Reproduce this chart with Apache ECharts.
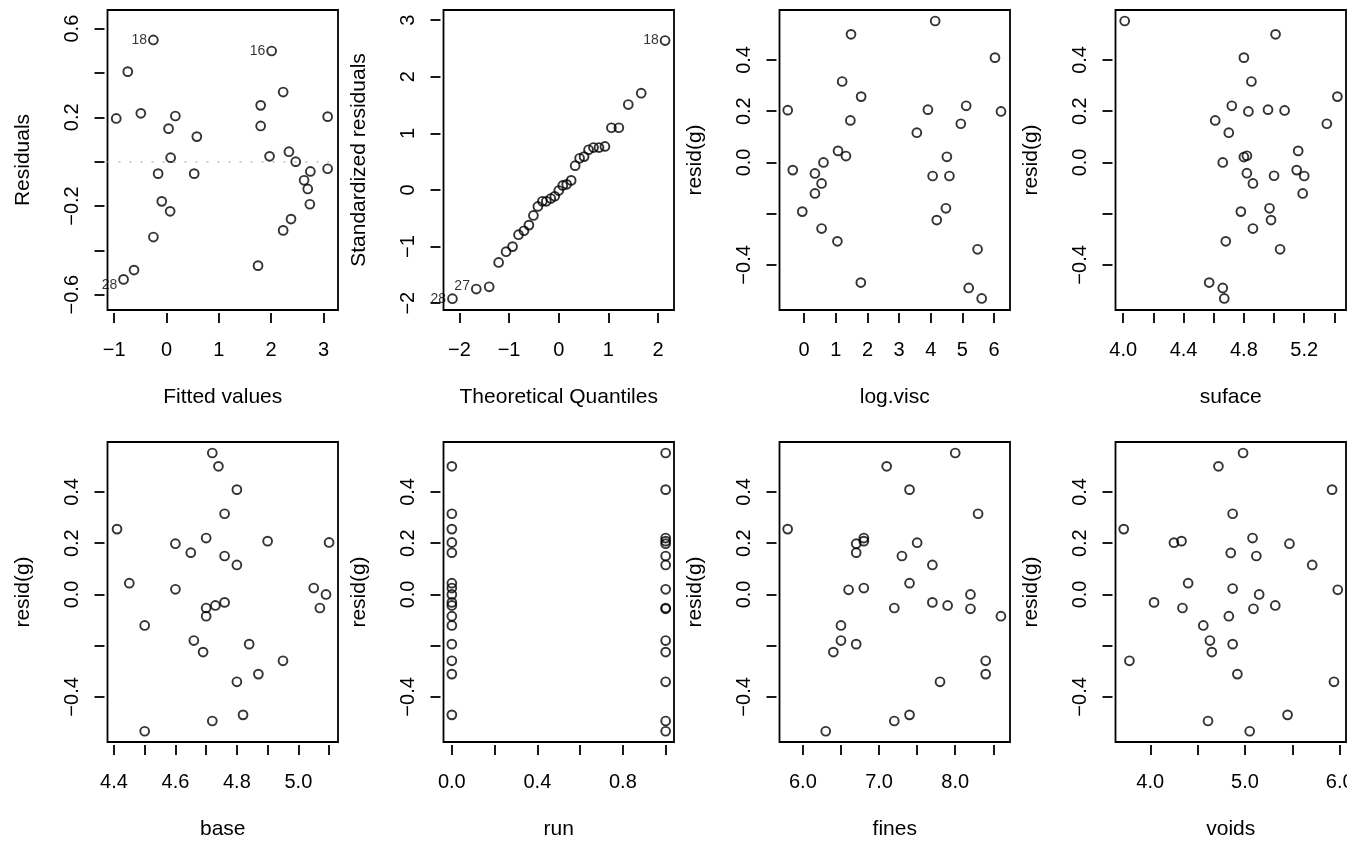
<!DOCTYPE html>
<html>
<head>
<meta charset="utf-8">
<script src="https://cdn.jsdelivr.net/npm/echarts@6/dist/echarts.min.js"></script>
<style>
  html, body { margin: 0; padding: 0; background: #fff; }
  #chart { width: 1366px; height: 842px; }
</style>
</head>
<body>
<div id="chart"></div>
<script>
// Residuals vs fitted
const fittedX = [-0.96, -0.74, -0.25, -0.49, 0.17, 0.04, 0.58, 0.08, -0.16, 0.53, -0.09, 0.07, -0.25, -0.62, -0.82, 2.01, 2.23, 1.80, 1.80, 3.08, 1.97, 2.34, 2.47, 2.75, 3.08, 2.63, 2.70, 2.74, 2.38, 2.23, 1.75]
const fittedResid = [0.195, 0.406, 0.549, 0.218, 0.206, 0.149, 0.113, 0.018, -0.054, -0.054, -0.179, -0.224, -0.340, -0.489, -0.531, 0.499, 0.314, 0.254, 0.161, 0.203, 0.024, 0.045, 0.0, -0.044, -0.032, -0.084, -0.123, -0.192, -0.259, -0.310, -0.469]
const fittedIds = { 2: '18', 15: '16', 14: '28' }

// Normal Q-Q
const qqX = [-2.14, -1.66, -1.40, -1.21, -1.06, -0.93, -0.81, -0.70, -0.60, -0.51, -0.42, -0.33, -0.25, -0.16, -0.08, 0.0, 0.08, 0.16, 0.25, 0.33, 0.42, 0.51, 0.60, 0.70, 0.81, 0.93, 1.06, 1.21, 1.40, 1.66, 2.14]
const qqY = [-1.92, -1.75, -1.71, -1.28, -1.09, -1.00, -0.79, -0.72, -0.62, -0.45, -0.29, -0.20, -0.20, -0.15, -0.11, -0.01, 0.08, 0.10, 0.17, 0.43, 0.56, 0.59, 0.71, 0.75, 0.75, 0.77, 1.10, 1.10, 1.51, 1.71, 2.64]
const qqIds = { 0: '28', 1: '27', 30: '18' }

// resid(g) against each predictor
const logViscX = [-0.52, -0.36, -0.06, 0.34, 0.34, 0.55, 0.61, 0.55, 1.05, 1.07, 1.32, 1.20, 1.48, 1.46, 1.80, 1.79, 3.56, 3.91, 4.14, 4.06, 4.19, 4.48, 4.51, 4.59, 4.95, 5.12, 5.20, 5.48, 5.61, 6.03, 6.22]
const logViscResid = [0.204, -0.030, -0.192, -0.043, -0.121, -0.082, 0.0, -0.258, -0.308, 0.045, 0.025, 0.316, 0.5, 0.164, 0.257, -0.469, 0.116, 0.206, 0.552, -0.053, -0.225, -0.179, 0.022, -0.053, 0.151, 0.221, -0.490, -0.339, -0.531, 0.409, 0.199]

const sufaceX = [4.01, 5.01, 4.80, 4.85, 5.42, 4.72, 4.96, 4.83, 5.07, 4.61, 5.35, 4.70, 5.16, 4.82, 4.80, 4.66, 4.82, 5.15, 5.20, 5.00, 4.86, 5.19, 4.78, 4.97, 4.98, 4.86, 4.68, 5.04, 4.57, 4.66, 4.67]
const sufaceResid = [0.552, 0.5, 0.409, 0.316, 0.257, 0.221, 0.206, 0.199, 0.203, 0.164, 0.151, 0.116, 0.045, 0.026, 0.021, 0.0, -0.042, -0.030, -0.053, -0.052, -0.082, -0.121, -0.192, -0.179, -0.225, -0.258, -0.308, -0.339, -0.469, -0.490, -0.531]

const baseX = [4.72, 4.74, 4.80, 4.76, 4.41, 4.70, 4.90, 4.60, 5.10, 4.65, 4.76, 4.80, 4.45, 4.60, 5.05, 5.09, 4.70, 4.73, 4.76, 4.70, 5.07, 4.50, 4.66, 4.69, 4.84, 4.95, 4.87, 4.80, 4.82, 4.72, 4.50]
const baseResid = [0.552, 0.5, 0.409, 0.315, 0.255, 0.220, 0.208, 0.198, 0.203, 0.163, 0.150, 0.115, 0.044, 0.020, 0.025, 0.0, -0.053, -0.043, -0.031, -0.085, -0.053, -0.121, -0.180, -0.225, -0.194, -0.259, -0.311, -0.341, -0.470, -0.494, -0.534]

const runX = [0, 0, 0, 0, 0, 0, 0, 0, 0, 0, 0, 0, 0, 0, 0, 0, 1, 1, 1, 1, 1, 1, 1, 1, 1, 1, 1, 1, 1, 1, 1]
const runResid = [0.5, 0.315, 0.255, 0.203, 0.163, 0.044, 0.025, 0.0, -0.031, -0.043, -0.085, -0.121, -0.194, -0.259, -0.311, -0.470, 0.552, 0.409, 0.220, 0.208, 0.198, 0.150, 0.115, 0.020, -0.053, -0.056, -0.180, -0.225, -0.341, -0.494, -0.534]

const finesX = [8.0, 7.1, 7.4, 8.3, 5.8, 6.8, 6.8, 7.5, 6.7, 6.7, 7.3, 7.7, 7.4, 6.6, 6.8, 8.2, 7.7, 7.9, 7.2, 8.2, 8.6, 6.5, 6.5, 6.4, 6.7, 8.4, 8.4, 7.8, 7.4, 7.2, 6.3]
const finesResid = [0.552, 0.5, 0.409, 0.315, 0.255, 0.220, 0.208, 0.202, 0.198, 0.163, 0.150, 0.115, 0.044, 0.018, 0.025, 0.0, -0.031, -0.043, -0.053, -0.056, -0.085, -0.121, -0.180, -0.225, -0.194, -0.259, -0.311, -0.341, -0.470, -0.494, -0.534]

const voidsX = [4.98, 4.72, 5.92, 4.87, 3.72, 5.08, 4.33, 4.25, 5.47, 4.85, 5.12, 5.71, 4.40, 4.87, 5.98, 5.15, 4.04, 5.32, 4.34, 5.09, 4.83, 4.56, 4.63, 4.65, 4.87, 3.78, 4.92, 5.94, 5.45, 4.61, 5.05]
const voidsResid = [0.552, 0.5, 0.409, 0.315, 0.255, 0.220, 0.208, 0.202, 0.198, 0.162, 0.150, 0.115, 0.044, 0.023, 0.018, 0.0, -0.031, -0.043, -0.053, -0.056, -0.085, -0.121, -0.180, -0.225, -0.194, -0.259, -0.311, -0.341, -0.470, -0.494, -0.534]

// tick positions and labelled ticks
const fittedTicks = [-1, 0, 1, 2, 3]
const fittedYTicks = [-0.6, -0.4, -0.2, 0, 0.2, 0.4, 0.6]
const fittedYLabels = [-0.6, -0.2, 0.2, 0.6]
const qqXTicks = [-2, -1, 0, 1, 2]
const qqYTicks = [-2, -1, 0, 1, 2, 3]
const residTicks = [-0.4, -0.2, 0, 0.2, 0.4]
const residLabels = [-0.4, 0, 0.2, 0.4]
const logViscTicks = [0, 1, 2, 3, 4, 5, 6]
const sufaceTicks = [4.0, 4.2, 4.4, 4.6, 4.8, 5.0, 5.2, 5.4]
const sufaceLabels = [4.0, 4.4, 4.8, 5.2]
const baseTicks = [4.4, 4.5, 4.6, 4.7, 4.8, 4.9, 5.0, 5.1]
const baseLabels = [4.4, 4.6, 4.8, 5.0]
const runTicks = [0, 0.2, 0.4, 0.6, 0.8, 1.0]
const runLabels = [0, 0.4, 0.8]
const finesTicks = [6.0, 6.5, 7.0, 7.5, 8.0, 8.5]
const finesLabels = [6.0, 7.0, 8.0]
const voidsTicks = [4.0, 4.5, 5.0, 5.5, 6.0]
const voidsLabels = [4.0, 5.0, 6.0]

const FONT = '"Liberation Sans", Arial, Helvetica, sans-serif'
const colLeft = [107.5, 443.5, 779.5, 1115.5]
const rowTop = [10, 442]
const boxW = 230.5
const boxH = 300
const LW = 1.8

const residRange = [-0.576, 0.595]

const panels = [
  { x: fittedX, y: fittedResid, ids: fittedIds, xName: 'Fitted values', yName: 'Residuals',
    xr: [-1.127, 3.278], yr: [-0.669, 0.684], xt: fittedTicks, xl: fittedTicks, xd: 0,
    yt: fittedYTicks, yl: fittedYLabels, yd: 1, zero: true },
  { x: qqX, y: qqY, ids: qqIds, xName: 'Theoretical Quantiles', yName: 'Standardized residuals',
    xr: [-2.32, 2.32], yr: [-2.12, 3.18], xt: qqXTicks, xl: qqXTicks, xd: 0,
    yt: qqYTicks, yl: qqYTicks, yd: 0 },
  { x: logViscX, y: logViscResid, xName: 'log.visc', yName: 'resid(g)',
    xr: [-0.78, 6.505], yr: residRange, xt: logViscTicks, xl: logViscTicks, xd: 0,
    yt: residTicks, yl: residLabels, yd: 1 },
  { x: sufaceX, y: sufaceResid, xName: 'suface', yName: 'resid(g)',
    xr: [3.949, 5.477], yr: residRange, xt: sufaceTicks, xl: sufaceLabels, xd: 1,
    yt: residTicks, yl: residLabels, yd: 1 },
  { x: baseX, y: baseResid, xName: 'base', yName: 'resid(g)',
    xr: [4.379, 5.129], yr: residRange, xt: baseTicks, xl: baseLabels, xd: 1,
    yt: residTicks, yl: residLabels, yd: 1 },
  { x: runX, y: runResid, xName: 'run', yName: 'resid(g)',
    xr: [-0.039, 1.039], yr: residRange, xt: runTicks, xl: runLabels, xd: 1,
    yt: residTicks, yl: residLabels, yd: 1 },
  { x: finesX, y: finesResid, xName: 'fines', yName: 'resid(g)',
    xr: [5.693, 8.719], yr: residRange, xt: finesTicks, xl: finesLabels, xd: 1,
    yt: residTicks, yl: residLabels, yd: 1 },
  { x: voidsX, y: voidsResid, xName: 'voids', yName: 'resid(g)',
    xr: [3.633, 6.067], yr: residRange, xt: voidsTicks, xl: voidsLabels, xd: 1,
    yt: residTicks, yl: residLabels, yd: 1 }
]

// nudges for the id labels so they sit like R's text()
const idOffset = { '28a': [0, 6], '27': [0, -3] }

function fmt(dec) {
  return (v) => {
    const n = Math.abs(v) < 1e-9 ? 0 : v
    return n.toFixed(dec).replace('-', '\u2212')
  }
}

const grid = []
const xAxis = []
const yAxis = []
const series = []

panels.forEach((p, i) => {
  const col = i % 4
  const row = Math.floor(i / 4)
  grid.push({
    left: colLeft[col], top: rowTop[row], width: boxW, height: boxH,
    show: true, borderColor: '#000', borderWidth: LW, backgroundColor: 'transparent'
  })
  xAxis.push({
    gridIndex: i, type: 'value', position: 'bottom', min: p.xr[0], max: p.xr[1], offset: 3,
    name: p.xName, nameLocation: 'middle', nameGap: 74,
    nameTextStyle: { fontFamily: FONT, fontSize: 21, color: '#000' },
    axisLine: { show: false, onZero: false },
    axisTick: { show: true, length: 10, customValues: p.xt, lineStyle: { color: '#000', width: LW } },
    axisLabel: { show: true, customValues: p.xl, margin: 27, formatter: fmt(p.xd),
      fontFamily: FONT, fontSize: 20, color: '#000', hideOverlap: false },
    splitLine: { show: false }
  })
  yAxis.push({
    gridIndex: i, type: 'value', position: 'left', min: p.yr[0], max: p.yr[1], offset: 3,
    name: p.yName, nameLocation: 'middle', nameGap: 71, nameRotate: 90,
    nameTextStyle: { fontFamily: FONT, fontSize: 21, color: '#000' },
    axisLine: { show: false, onZero: false },
    axisTick: { show: true, length: 10, customValues: p.yt, lineStyle: { color: '#000', width: LW } },
    axisLabel: { show: true, customValues: p.yl, margin: 22, rotate: 90, formatter: fmt(p.yd),
      fontFamily: FONT, fontSize: 20, color: '#000', hideOverlap: false },
    splitLine: { show: false }
  })

  const data = p.x.map((xv, k) => {
    const item = { value: [xv, p.y[k]] }
    const id = p.ids && p.ids[k]
    if (id) {
      const key = (id === '28' && i === 0) ? '28a' : id
      item.label = {
        show: true, formatter: id, position: 'left', distance: 1,
        offset: idOffset[key] || [0, 0],
        fontFamily: FONT, fontSize: 14, color: '#000'
      }
    }
    return item
  })

  const s = {
    type: 'scatter', xAxisIndex: i, yAxisIndex: i, data,
    symbol: 'circle', symbolSize: 8.8,
    itemStyle: { color: 'rgba(0,0,0,0)', borderColor: '#000', borderWidth: 1.9 },
    clip: false, silent: true
  }
  if (p.zero) {
    s.markLine = {
      silent: true, symbol: 'none', label: { show: false },
      lineStyle: { color: '#bebebe', type: [2, 9], width: 1.6 },
      data: [{ yAxis: 0 }]
    }
  }
  series.push(s)
})

const chart = echarts.init(document.getElementById('chart'), null, { renderer: 'canvas' })
chart.setOption({
  animation: false,
  backgroundColor: '#fff',
  grid, xAxis, yAxis, series,
  // the last x label is cut by the device edge in the original
  graphic: [{
    type: 'rect', z: 100, silent: true,
    shape: { x: 1347, y: 760, width: 19, height: 40 },
    style: { fill: '#fff' }
  }]
})
</script>
</body>
</html>
